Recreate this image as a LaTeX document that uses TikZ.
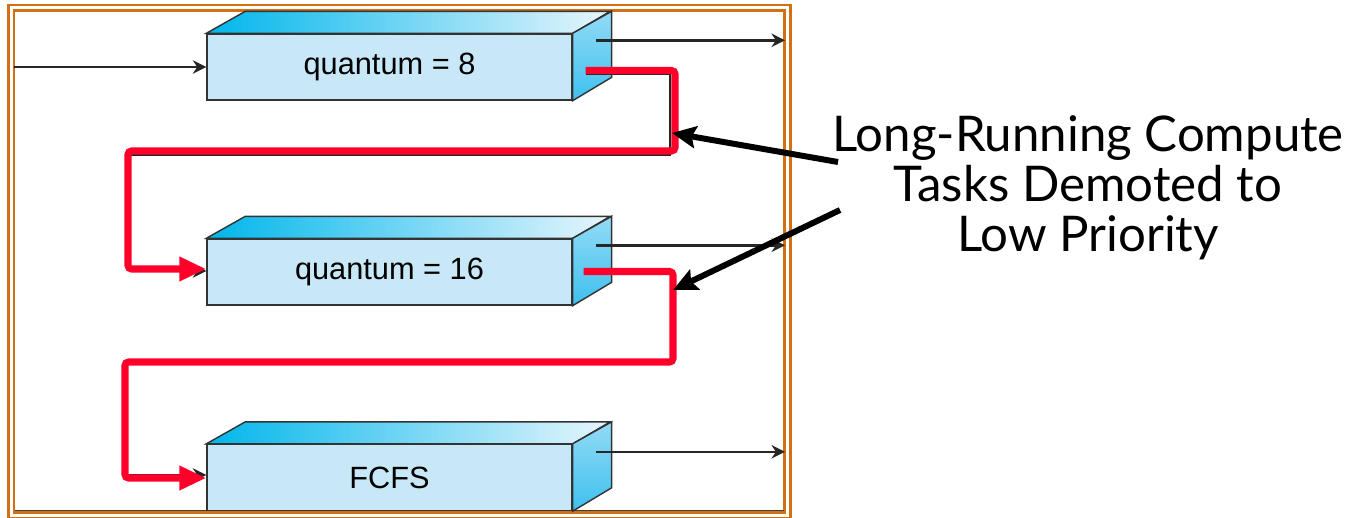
\documentclass[tikz,border=0pt]{standalone}
\usepackage{fontspec}
\usepackage{tikz}
\usetikzlibrary{arrows.meta,calc}
\newfontfamily\boxfont{Liberation Sans}
\newfontfamily\notefont{Lato}
\definecolor{boxfront}{RGB}{200,232,248}
\definecolor{boxdark}{RGB}{0,182,235}
\definecolor{boxlight}{RGB}{232,246,253}
\definecolor{boxside}{RGB}{62,192,238}
\definecolor{demote}{RGB}{255,0,42}
\definecolor{framecol}{RGB}{212,112,20}

\begin{document}
\begin{tikzpicture}[x=0.02cm,y=0.02cm,
  queue/.style={draw=black!80,line width=0.8pt,fill=boxfront,minimum width=7.3cm,
    minimum height=1.32cm,inner sep=0pt,font=\boxfont\fontsize{17.5}{20}\selectfont},
  face/.style={draw=black!80,line width=0.8pt},
  flow/.style={black!85,line width=1.4pt,-{Stealth[length=0.27cm,width=0.27cm]}},
  demoted/.style={demote,line width=4pt,rounded corners=2pt,
    -{Triangle[length=0.54cm,width=0.46cm]}},
  pointer/.style={line width=3.4pt,-{Stealth[length=0.48cm,width=0.44cm,inset=0.08cm]}}]

\useasboundingbox (0,0) rectangle (1354,-517);

% double frame round the figure
\draw[framecol,line width=1.4pt] (8.5,-5) rectangle (790.5,-518.5);
\draw[framecol,line width=1.4pt] (14,-10.5) rectangle (784.5,-512.5);
\draw[black!75,line width=0.6pt] (15,-510.5) -- (783.5,-510.5);

\node[queue] (Q8) at (389.5,-67) {quantum = 8};
\node[queue] (Q16) at (389.5,-272) {quantum = 16};
\node[queue] (FCFS) at (389.5,-477.5) {FCFS};

\foreach \q in {Q8,Q16,FCFS} {
  \shadedraw[face,left color=boxdark,right color=boxlight]
    (\q.north west) -- ++(39,22) -- ++(365,0) -- (\q.north east) -- cycle;
  \shadedraw[face,top color=boxlight!50!boxside,bottom color=boxside]
    (\q.north east) -- ++(39,22) -- ++(0,-66) -- (\q.south east) -- cycle;
}

\coordinate (in) at (14,-67);
\coordinate (out) at (785,0);
\coordinate (Q8o) at ($(Q8.north east)+(23,-7)$);
\coordinate (Q16o) at ($(Q16.north east)+(23,-7)$);
\coordinate (FCFSo) at ($(FCFS.north east)+(23,-8)$);

\draw[flow] (in) -- (Q8);
\draw[flow] (Q8o) -- (Q8o -| out);
\draw[flow] (Q16o) -- (Q16o -| out);
\draw[flow] (FCFSo) -- (FCFSo -| out);

% old black links, partly hidden
\draw[flow] ($(Q8.east)+(13,-7)$) -- (670,-74) -- (670,-155) -- (130,-155)
  |- ($(Q16.west)+(0,1)$);
\draw[flow] ($(Q16.east)+(11,-1)$) -- (673,-273) -- (673,-362) -- (125,-362)
  |- ($(FCFS.west)+(0,2.5)$);

% demotion paths
\draw[demoted] ($(Q8.east)+(13,-3.5)$) -- (675,-70.5) -- (675,-151) -- (128,-151)
  |- ($(Q16.west)+(0,3)$);
\draw[demoted] ($(Q16.east)+(11,0.5)$) -- (673,-271.5) -- (673,-362) -- (125,-362)
  |- ($(FCFS.west)+(0,-0.5)$);

\node[font=\notefont\fontsize{28}{28.4}\selectfont,align=center] (note) at (1088,-188)
  {Long-Running Compute\\Tasks Demoted to\\Low Priority};

\coordinate (tail1) at (838,-162);
\coordinate (tail2) at (840,-210);
\coordinate (hit1) at (672,-133);
\coordinate (hit2) at (673,-290);
\draw[pointer] (tail1) -- (hit1);
\draw[pointer] (tail2) -- (hit2);

\end{tikzpicture}
\end{document}
